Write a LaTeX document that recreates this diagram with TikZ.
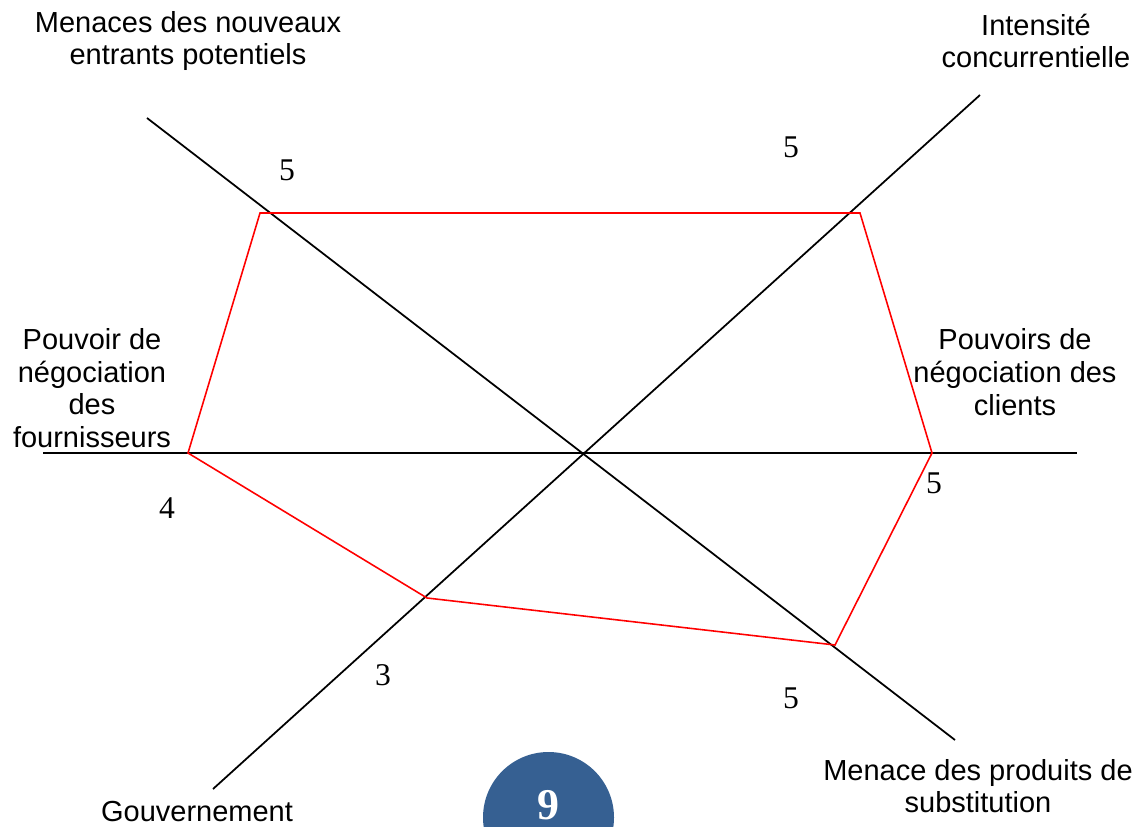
\documentclass[tikz,border=0pt]{standalone}
\usepackage{fontspec}
\setmainfont{Liberation Serif}
\setsansfont{Liberation Sans}
\usetikzlibrary{positioning,calc}
\definecolor{pageblue}{RGB}{54,96,146}
\definecolor{profil}{RGB}{255,0,0}

\begin{document}
\begin{tikzpicture}[x=0.02cm, y=-0.02cm, semithick]
        \tikzstyle{axe}=[draw=black, line width=1pt]
        \tikzstyle{force}=[align=center, inner sep=0pt, font=\sffamily\fontsize{16.5}{18.6}\selectfont]
        \tikzstyle{score}=[inner sep=0pt, font=\fontsize{18}{20}\selectfont]
        \useasboundingbox (0,0) rectangle (1146,827);

        % extremites des axes
        \coordinate (W) at (43,453);
        \coordinate (E) at (1077,453);
        \coordinate (NW) at (147,118);
        \coordinate (SE) at (955,740);
        \coordinate (SW) at (213,789);
        \coordinate (NE) at (980,95);

        \draw[axe] (W) -- (E);
        \draw[axe] (NW) -- (SE);
        \draw[axe] (SW) -- (NE);

        % profil
        \coordinate (P1) at (260,213);
        \coordinate (P2) at (860,213);
        \coordinate (P3) at (932,453);
        \coordinate (P4) at (835,645);
        \coordinate (P5) at (427,598);
        \coordinate (P6) at (188,453);
        \draw[profil, line width=0.9pt, line join=miter]
        (P1) -- (P2) -- (P3) -- (P4) -- (P5) -- (P6) -- cycle;

        % forces
        \node[force] (entrants) at (188,41) {Menaces des nouveaux\\entrants potentiels};
        \node[force] (intensite) at (1036,41) {Intensit\'e\\concurrentielle};
        \node[force] (fournisseurs) at (92,388) {Pouvoir de\\n\'egociation\\des\\fournisseurs};
        \node[force] (clients) at (1015,372) {Pouvoirs de\\n\'egociation des\\clients};
        \node[force] (substitution) at (978,786) {Menace des produits de\\substitution};
        \node[force] (gouvernement) at (197,812) {Gouvernement};

        % notes
        \node[score] (s1) at (287,170) {5};
        \node[score] (s2) at (791,147) {5};
        \node[score] (s3) at (934,483) {5};
        \node[score] (s4) at (791,698) {5};
        \node[score] (s5) at (383,675) {3};
        \node[score] (s6) at (167,508) {4};

        % numero de page
        \fill[pageblue] (548.5,817.5) circle (65.5);
        \node[text=white, inner sep=0pt, font=\bfseries\fontsize{25}{28}\selectfont] (page) at (548.5,805) {9};
\end{tikzpicture}
\end{document}
